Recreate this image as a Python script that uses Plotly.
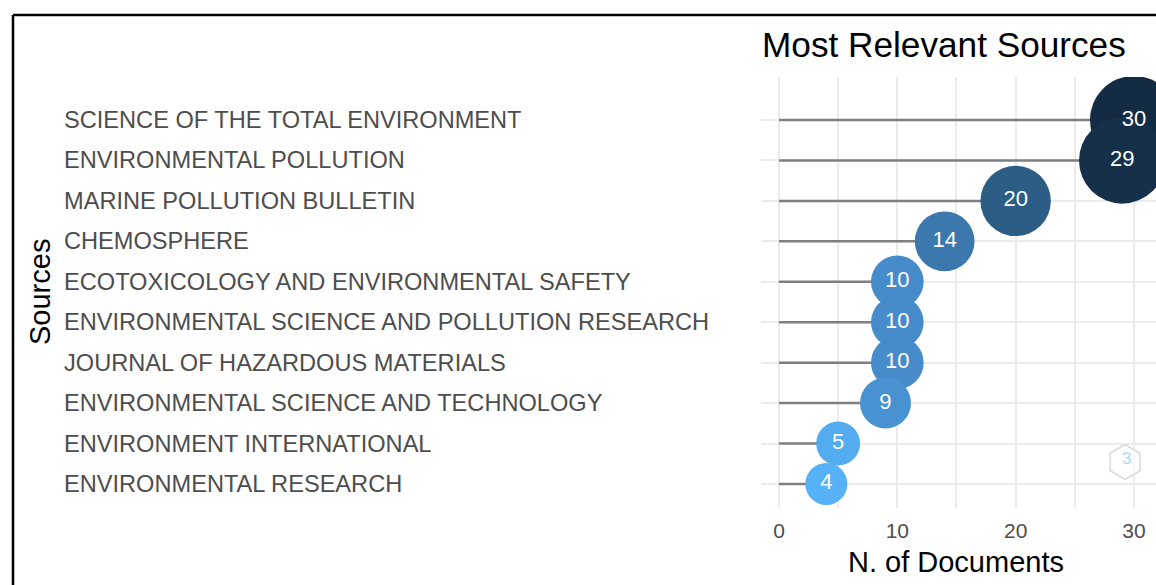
import math
import plotly.graph_objects as go

# ---- data (top to bottom as shown) ----
sources = [
    "SCIENCE OF THE TOTAL ENVIRONMENT",
    "ENVIRONMENTAL POLLUTION",
    "MARINE POLLUTION BULLETIN",
    "CHEMOSPHERE",
    "ECOTOXICOLOGY AND ENVIRONMENTAL SAFETY",
    "ENVIRONMENTAL SCIENCE AND POLLUTION RESEARCH",
    "JOURNAL OF HAZARDOUS MATERIALS",
    "ENVIRONMENTAL SCIENCE AND TECHNOLOGY",
    "ENVIRONMENT INTERNATIONAL",
    "ENVIRONMENTAL RESEARCH",
]
documents = [30, 29, 20, 14, 10, 10, 10, 9, 5, 4]
x_ticks = [0, 10, 20, 30]

W, H = 1156, 585
L, R, T = 761, 0, 77
B = H - 508
PW, PH = W - L - R, H - T - B

def px(xp):
    return (xp - L) / PW

def py(yp):
    return (H - B - yp) / PH

n = len(sources)
ypos = [n - i for i in range(n)]  # top item gets highest position

FONT = "Liberation Sans, Arial, sans-serif"

fig = go.Figure()

# lollipop stems
sx, sy = [], []
for v, y in zip(documents, ypos):
    sx += [0, v, None]
    sy += [y, y, None]
fig.add_trace(go.Scatter(x=sx, y=sy, mode="lines",
                         line=dict(color="#7F7F7F", width=2.5),
                         hoverinfo="skip", showlegend=False))

# bubbles
sizes = [35 + 1.77 * v for v in documents]
fig.add_trace(go.Scatter(
    x=documents, y=ypos, mode="markers+text",
    text=[str(v) for v in documents], textposition="middle center",
    textfont=dict(color="white", size=22, family=FONT),
    marker=dict(size=sizes, color=documents, cmin=min(documents), cmax=max(documents),
                colorscale=[[0, "#56B1F7"], [0.25, "#4589C7"], [0.5, "#336A98"],
                            [0.75, "#244D6F"], [1, "#132B43"]],
                line=dict(width=0), opacity=1, showscale=False),
    showlegend=False, hoverinfo="skip"))

annotations = []
# left-aligned source labels
for s, y in zip(sources, ypos):
    annotations.append(dict(text=s, x=px(62), xref="paper", y=y, yref="y",
                            xanchor="left", yanchor="middle", showarrow=False,
                            font=dict(size=23.6, color="#4D4D4D", family=FONT)))
# titles
annotations.append(dict(text="Most Relevant Sources", x=px(760), y=py(44), xref="paper", yref="paper",
                        xanchor="left", yanchor="middle", showarrow=False,
                        font=dict(size=35.2, color="black", family=FONT)))
annotations.append(dict(text="N. of Documents", x=px(956), y=py(562), xref="paper", yref="paper",
                        xanchor="center", yanchor="middle", showarrow=False,
                        font=dict(size=29, color="black", family=FONT)))
annotations.append(dict(text="Sources", x=px(40), y=py(292), xref="paper", yref="paper",
                        xanchor="center", yanchor="middle", showarrow=False, textangle=-90,
                        font=dict(size=29, color="black", family=FONT)))
# watermark logo glyph
annotations.append(dict(text="3", x=px(1126), y=py(458), xref="paper", yref="paper",
                        xanchor="center", yanchor="middle", showarrow=False,
                        font=dict(size=17, color="#A8D8F0", family=FONT)))

shapes = []
# frame border
shapes.append(dict(type="line", xref="paper", yref="paper", x0=px(13), x1=px(1170),
                   y0=py(15), y1=py(15), line=dict(color="black", width=2.5)))
shapes.append(dict(type="line", xref="paper", yref="paper", x0=px(13), x1=px(13),
                   y0=py(15), y1=py(600), line=dict(color="black", width=2.5)))
# hexagon watermark
cx, cy, rad = 1125, 462, 17.5
pts = []
for k in range(6):
    a = math.radians(90 + 60 * k)
    pts.append((px(cx + rad * math.cos(a) * 0.98), py(cy - rad * math.sin(a))))
path = "M " + " L ".join(f"{a:.5f},{b:.5f}" for a, b in pts) + " Z"
shapes.append(dict(type="path", xref="paper", yref="paper", path=path,
                   line=dict(color="#D9D9D9", width=1.5), fillcolor="rgba(255,255,255,0.6)"))

fig.update_layout(
    width=W, height=H,
    margin=dict(l=L, r=R, t=T, b=B, autoexpand=False),
    paper_bgcolor="white", plot_bgcolor="white",
    font=dict(family=FONT),
    xaxis=dict(range=[-1.52, 31.86], tickvals=x_ticks, ticktext=[str(t) for t in x_ticks],
               showgrid=True, gridcolor="#EBEBEB", gridwidth=2, zeroline=False,
               showline=False, ticks="", ticklabelstandoff=8,
               tickfont=dict(size=21, color="#4D4D4D", family=FONT),
               minor=dict(tickvals=[5, 15, 25], showgrid=True, gridcolor="#EBEBEB", gridwidth=1.5),
               fixedrange=True),
    yaxis=dict(range=[0.405, 11.065], tickvals=ypos, showticklabels=False,
               showgrid=True, gridcolor="#EBEBEB", gridwidth=2, zeroline=False,
               showline=False, ticks="", fixedrange=True),
    annotations=annotations, shapes=shapes,
    showlegend=False,
)

fig.write_html("out.html", config={"displayModeBar": False},
               post_script="document.body.style.margin='0';document.body.style.overflow='hidden';")
